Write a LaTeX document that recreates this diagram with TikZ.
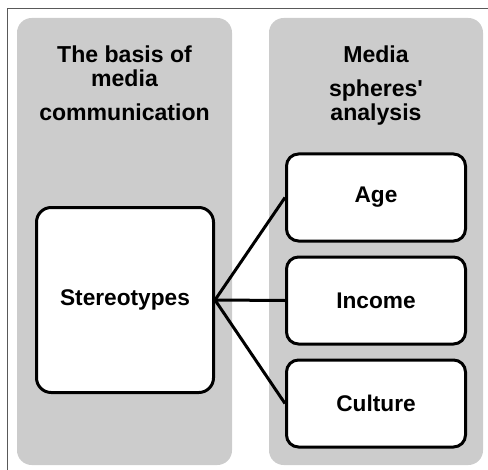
\documentclass[tikz,border=0pt]{standalone}
\usepackage{fontspec}
\setmainfont{Liberation Sans}
\usetikzlibrary{positioning}

\begin{document}
\begin{tikzpicture}[x=0.75pt, y=-0.75pt,
    col/.style={fill=black!20, rounded corners=11pt},
    b/.style={draw, line width=2.25pt, fill=white, rounded corners=9pt,
      minimum width=134.25pt, minimum height=65.25pt, font=\fontsize{17}{18}\selectfont\bfseries},
    h/.style={align=center, anchor=base, font=\fontsize{17.3}{18}\selectfont\bfseries},
    l/.style={line width=2.25pt}]
  \useasboundingbox (0,0) rectangle (488,470);
  \draw[black!65, line width=0.9pt] (7.5,480) -- (7.5,8.5) -- (495,8.5);

  % the two columns
  \fill[col] (17,18) rectangle (232,465);
  \fill[col] (269,18) rectangle (483,465);

  % headings, placed by the baseline of their last line
  \node[h] (h1) at (124.5,121) {The basis of\\ media\\[7.5pt] communication};
  \node[h] (h2) at (376,121) {Media\\[7.5pt] spheres\textquotesingle\\ analysis};

  \node[b, rounded corners=11pt, minimum width=132.75pt, minimum height=138.75pt] (s) at (125,300) {Stereotypes};

  \node[b] (b1) at (376,197.5) {Age};
  \foreach \t [count=\i from 2, evaluate=\i as \ip using int(\i-1)] in {Income, Culture}
    \node[b, below=9.75pt of b\ip] (b\i) {\t};

  \foreach \i in {1,2,3}
    \draw[l] (s.east) -- (b\i.west);
\end{tikzpicture}
\end{document}
